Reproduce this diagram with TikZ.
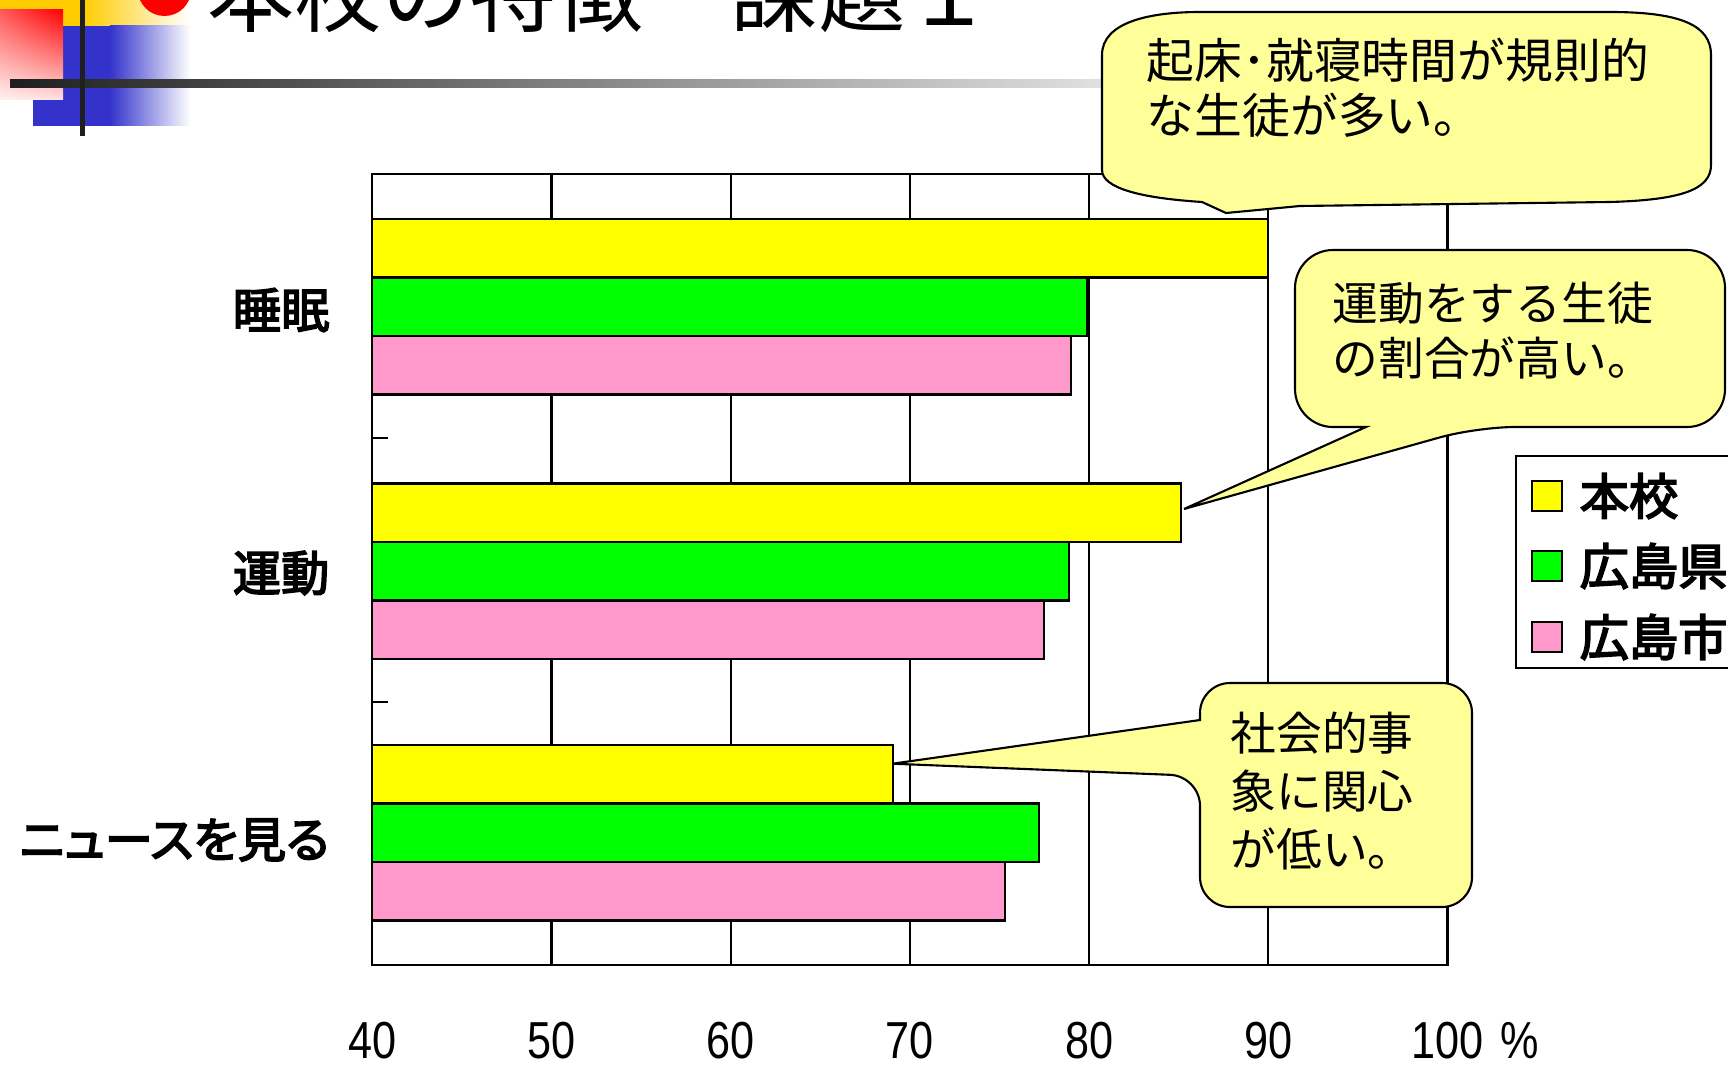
\documentclass[tikz,border=0pt]{standalone}
\usepackage{fontspec}
\setmainfont{Noto Sans CJK JP}
\newfontfamily\labelfont[FakeBold=3.5,RawFeature=+palt]{Noto Sans CJK JP}
\newfontfamily\numfont[FakeStretch=0.83]{Liberation Sans}
\usetikzlibrary{positioning}
\usetikzlibrary{shadings}
\definecolor{schoolyellow}{RGB}{255,255,0}
\definecolor{prefgreen}{RGB}{0,255,0}
\definecolor{citypink}{RGB}{255,153,204}
\definecolor{memo}{RGB}{255,255,153}
\definecolor{decoyellow}{RGB}{255,204,0}
\definecolor{decoblue}{RGB}{51,51,204}

\begin{document}
\begin{tikzpicture}[x=0.01cm,y=-0.01cm,
    bar/.style={draw,line width=0.6pt},
    grid line/.style={line width=0.6pt},
    memo box/.style={draw,fill=memo,line width=0.6pt},
    memo text/.style={inner sep=0pt,align=left,anchor=west,font=\fontsize{13pt}{16.4pt}\selectfont},
    cat label/.style={inner sep=0pt,anchor=east,font=\labelfont\fontsize{13.7pt}{16pt}\selectfont},
    num label/.style={inner sep=0pt,font=\numfont\fontsize{14.8pt}{16pt}\selectfont},
    swatch/.style={draw,line width=0.6pt,minimum size=0.3cm,inner sep=0pt},
    swatch text/.style={inner sep=0pt,font=\labelfont\fontsize{14pt}{16pt}\selectfont}]
  \clip (0,0) rectangle (1728,1064);
  \fill[white] (0,0) rectangle (1728,1064);

  % slide decoration
  \fill[decoyellow] (0,0) rectangle (84,26);
  \shade[left color=decoyellow,right color=white] (83,0) rectangle (190,26);
  \fill[decoblue] (33,26) rectangle (111,126);
  \shade[left color=decoblue,right color=white] (110,26) rectangle (190,126);
  \shade[upper left=red!65!white,upper right=red,lower left=red!5!white,lower right=red!12!white] (0,10) rectangle (63,100);
  \shade[left color=black!88,right color=black!12] (10,80) rectangle (1102,88);
  \fill[black!88] (79.5,0) rectangle (84.5,136);
  \fill[red] (164.5,-10.75) circle (26.75);
  \node[anchor=base west,inner sep=0pt,font=\fontsize{24.8pt}{26pt}\selectfont] (title) at (207,26) {本校の特徴　課題１};

  % grid
  \draw[grid line] (551.5,174) -- (551.5,965);
  \draw[grid line] (730.7,174) -- (730.7,965);
  \draw[grid line] (909.9,174) -- (909.9,965);
  \draw[grid line] (1089.1,174) -- (1089.1,965);
  \draw[grid line] (1268.3,174) -- (1268.3,965);

  % bars
  \draw[bar,fill=schoolyellow] (372.3,219) rectangle (1268.3,277.5);
  \draw[bar,fill=prefgreen] (372.3,277.5) rectangle (1087.3,336);
  \draw[bar,fill=citypink] (372.3,336) rectangle (1071.2,394.5);
  \draw[bar,fill=schoolyellow] (372.3,483.5) rectangle (1181,542);
  \draw[bar,fill=prefgreen] (372.3,542) rectangle (1069.4,600.5);
  \draw[bar,fill=citypink] (372.3,600.5) rectangle (1044.3,659);
  \draw[bar,fill=schoolyellow] (372.3,745) rectangle (892.6,803.5);
  \draw[bar,fill=prefgreen] (372.3,803.5) rectangle (1038.9,862);
  \draw[bar,fill=citypink] (372.3,862) rectangle (1004.9,920.5);

  \draw[grid line] (372.3,174) rectangle (1447.5,965);
  \draw[grid line] (372.3,438) -- (388,438);
  \draw[grid line] (372.3,702) -- (388,702);

  \node[cat label] (sleep) at (330,310) {睡眠};
  \node[cat label] (sport) at (330,573) {運動};
  \node[cat label] (news) at (330,840) {ニュースを見る};

  \node[num label] (n40) at (372.3,1041) {40};
  \node[num label] (n50) at (551.5,1041) {50};
  \node[num label] (n60) at (730.7,1041) {60};
  \node[num label] (n70) at (909.9,1041) {70};
  \node[num label] (n80) at (1089.1,1041) {80};
  \node[num label] (n90) at (1268.3,1041) {90};
  \node[num label] (n100) at (1447.5,1041) {100};
  \node[num label] (pct) at (1520,1041) {\%};

  % legend
  \draw[line width=0.6pt,fill=white] (1516,456) rectangle (1800,668);
  \node[swatch,fill=schoolyellow] (k1) at (1547,496) {};
  \node[swatch,fill=prefgreen] (k2) at (1547,566) {};
  \node[swatch,fill=citypink] (k3) at (1547,637) {};
  \node[swatch text,right=0.16cm of k1] (l1) {本校};
  \node[swatch text,right=0.16cm of k2] (l2) {広島県};
  \node[swatch text,right=0.16cm of k3] (l3) {広島市};

  % callouts
  \draw[memo box] (1102,55) .. controls (1102,22) and (1150,12) .. (1200,12) -- (1610,12)
    .. controls (1680,12) and (1711,25) .. (1711,55) -- (1711,165)
    .. controls (1711,190) and (1680,200) .. (1610,202) -- (1300,206) -- (1226,213) -- (1202,202)
    .. controls (1140,198) and (1102,188) .. (1102,170) -- cycle;
  \node[memo text,font=\fontsize{13.6pt}{15.6pt}\selectfont] (m1) at (1146,88) {起床･就寝時間が規則的\\な生徒が多い。};

  \draw[memo box] (1366,427) [rounded corners=0.38cm] -- (1295,427) -- (1295,250) -- (1725,250) -- (1725,427) -- (1477,427) [sharp corners] -- (1184,509) -- cycle;
  \node[memo text,font=\fontsize{13pt}{15.6pt}\selectfont] (m2) at (1332,330.5) {運動をする生徒\\の割合が高い。};

  \draw[memo box] (1200,720) [rounded corners=0.3cm] -- (1200,683) -- (1472,683) -- (1472,907) -- (1200,907) -- (1200,776) [sharp corners] -- (892.6,763.7) -- cycle;
  \node[memo text] (m3) at (1230,791) {社会的事\\象に関心\\が低い。};
\end{tikzpicture}
\end{document}
